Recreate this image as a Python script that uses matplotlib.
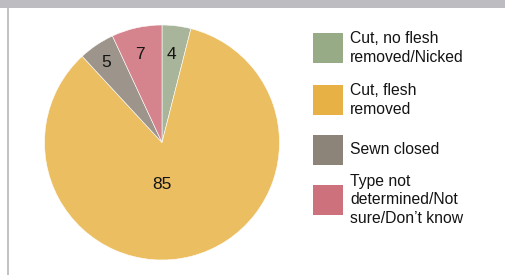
import matplotlib
matplotlib.use("Agg")
import matplotlib.pyplot as plt
from matplotlib.patches import Rectangle

plt.rcParams['font.family'] = ['Liberation Sans', 'DejaVu Sans']

categories = ["Cut, no flesh\nremoved/Nicked", "Cut, flesh\nremoved", "Sewn closed",
              "Type not\ndetermined/Not\nsure/Don\u2019t know"]
values = [4, 85, 5, 7]
pie_colors = ["#a9b59a", "#ecbe62", "#9d958b", "#d5848e"]
legend_colors = ["#97ab86", "#e8b146", "#8c8379", "#cd717d"]
label_pos = [(0.077, 0.745), (0.0, -0.36), (-0.477, 0.677), (-0.187, 0.745)]

W, H = 506, 275
fig = plt.figure(figsize=(W / 100, H / 100), dpi=100)
fig.patch.set_facecolor("white")

# frame decorations
fig.add_artist(Rectangle((0, 1 - 7.5 / H), 1, 7.5 / H, transform=fig.transFigure,
                         facecolor="#bdbdc1", edgecolor="none"))
fig.add_artist(Rectangle((7 / W, 0), 2.5 / W, 1 - 7.5 / H, transform=fig.transFigure,
                         facecolor="#c3c3c3", edgecolor="none"))

cx, cy, r = 162, 142.5, 117.5
ax = fig.add_axes([(cx - r) / W, (H - cy - r) / H, 2 * r / W, 2 * r / H])
ax.pie(values, colors=pie_colors, startangle=90, counterclock=False, radius=1,
       wedgeprops=dict(edgecolor="white", linewidth=0.4))
ax.set_xlim(-1, 1)
ax.set_ylim(-1, 1)
ax.set_aspect("equal")
ax.axis("off")
for v, (x, y) in zip(values, label_pos):
    ax.text(x, y, str(v), ha="center", va="center", fontsize=12.5, color="#141414")

# legend
centers = [48, 100, 150, 200]
for lab, col, yc in zip(categories, legend_colors, centers):
    fig.add_artist(Rectangle((313 / W, (H - yc - 15) / H), 30 / W, 30 / H,
                             transform=fig.transFigure, facecolor=col, edgecolor="none"))
    fig.text(350 / W, (H - yc) / H, lab, ha="left", va="center", fontsize=11.3,
             color="#141414", linespacing=1.33)

fig.savefig("out.png", dpi=100)
